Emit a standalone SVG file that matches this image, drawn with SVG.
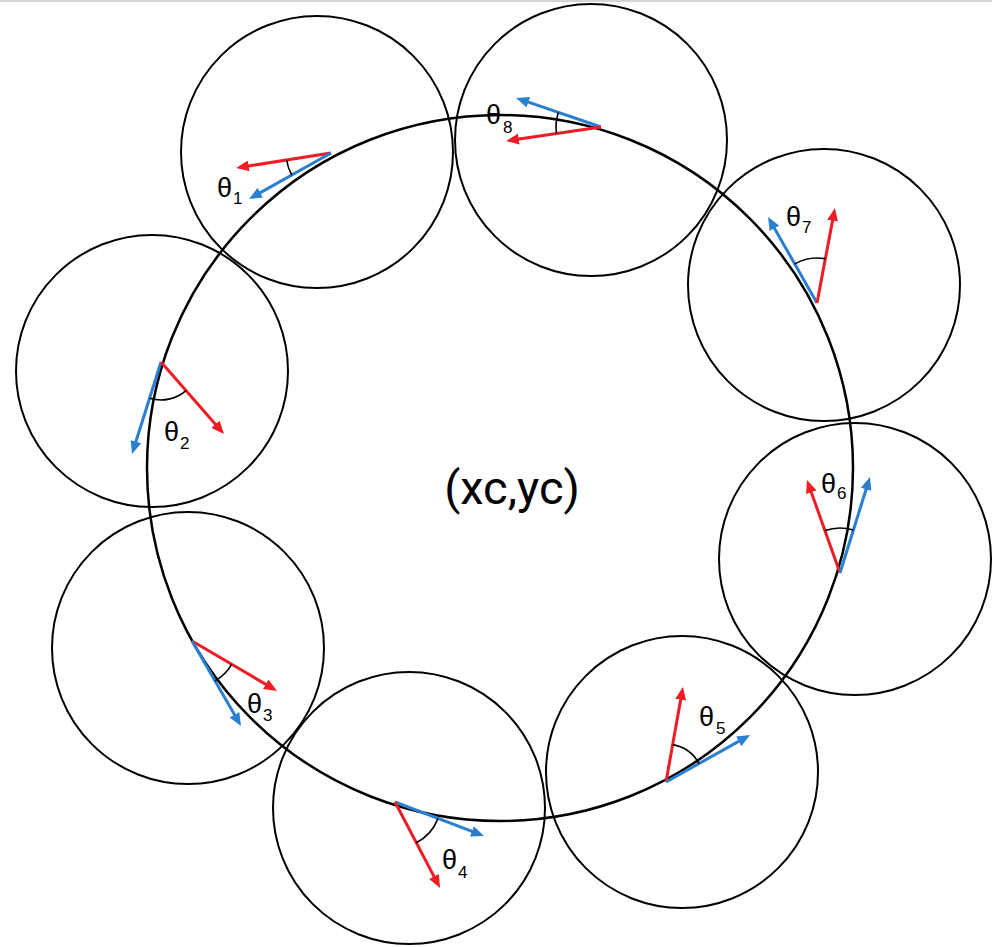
<svg xmlns="http://www.w3.org/2000/svg" width="992" height="947" viewBox="0 0 992 947">
<style>
.c{fill:none;stroke:#000;stroke-width:2}
.big{fill:none;stroke:#000;stroke-width:2.5}
.r{stroke:#ee1c24;stroke-width:3;fill:none;marker-end:url(#ar)}
.b{stroke:#2a80cf;stroke-width:3;fill:none;marker-end:url(#ab)}
.a{fill:none;stroke:#000;stroke-width:1.6}
.t{font-family:"Liberation Sans",Arial,sans-serif;font-size:27px;fill:#000}
.s{font-size:17px}
.m{font-family:Roboto,"Liberation Sans",sans-serif;font-size:47px;fill:#000}
</style>
<defs>
<marker id="ar" markerUnits="userSpaceOnUse" markerWidth="14" markerHeight="11" refX="3" refY="5.5" orient="auto"><path d="M0,0 L13,5.5 L0,11 z" fill="#ee1c24"/></marker>
<marker id="ab" markerUnits="userSpaceOnUse" markerWidth="14" markerHeight="11" refX="3" refY="5.5" orient="auto"><path d="M0,0 L13,5.5 L0,11 z" fill="#2a80cf"/></marker>
</defs>
<rect x="0" y="0" width="992" height="2" fill="#d4d4d4"/>
<g id="circles">
<circle id="c1" class="c" cx="317" cy="152" r="136"/>
<circle id="c8" class="c" cx="591" cy="140" r="136"/>
<circle id="c7" class="c" cx="824" cy="285" r="136"/>
<circle id="c6" class="c" cx="855" cy="559" r="136"/>
<circle id="c5" class="c" cx="682" cy="772" r="136"/>
<circle id="c4" class="c" cx="409" cy="808" r="136"/>
<circle id="c3" class="c" cx="188" cy="648" r="136"/>
<circle id="c2" class="c" cx="152" cy="371" r="136"/>
</g>
<circle id="path" class="big" cx="500" cy="468" r="353"/>
<text id="center" class="m" x="512" y="504" text-anchor="middle">(xc,yc)</text>
<g id="connectors">
<g id="v1">
<line class="r" x1="331" y1="153" x2="245.9" y2="166.4"/>
<line class="b" x1="331" y1="153" x2="257.7" y2="194.1"/>
<path class="a" d="M286.6,160 A45,45 0 0 0 291.8,175"/>
</g>
<g id="v8">
<line class="b" x1="601" y1="127" x2="525.5" y2="101.2"/>
<line class="r" x1="601" y1="127" x2="515.9" y2="139.5"/>
<path class="a" d="M558.4,112.5 A45,45 0 0 0 556.5,133.6"/>
</g>
<g id="v7">
<line class="b" x1="817" y1="303" x2="773" y2="225.7"/>
<line class="r" x1="817" y1="303" x2="833.1" y2="217.8"/>
<path class="a" d="M794.7,263.9 A45,45 0 0 1 825.4,258.8"/>
</g>
<g id="v6">
<line class="r" x1="840" y1="573" x2="810.3" y2="489.4"/>
<line class="b" x1="840" y1="573" x2="867" y2="486.5"/>
<path class="a" d="M825,530.6 A45,45 0 0 1 853.4,530.1"/>
</g>
<g id="v5">
<line class="r" x1="666" y1="782" x2="681.2" y2="696.8"/>
<line class="b" x1="666" y1="782" x2="741.3" y2="739.9"/>
<path class="a" d="M672.7,744.6 A38,38 0 0 1 699.1,763.5"/>
</g>
<g id="v4">
<line class="b" x1="395" y1="802" x2="474.7" y2="832.4"/>
<line class="r" x1="395" y1="802" x2="435.4" y2="879.1"/>
<path class="a" d="M438,818.4 A46,46 0 0 1 416.3,842.8"/>
</g>
<g id="v3">
<line class="r" x1="192" y1="641" x2="268.4" y2="685.9"/>
<line class="b" x1="192" y1="641" x2="236" y2="717.3"/>
<path class="a" d="M231.7,664.3 A46,46 0 0 1 215,680.9"/>
</g>
<g id="v2">
<line class="b" x1="161" y1="362" x2="135" y2="444.5"/>
<line class="r" x1="161" y1="362" x2="217.4" y2="426.5"/>
<path class="a" d="M149.6,398.2 A38,38 0 0 0 186,390.6"/>
</g>
</g>
<g id="labels">
<text class="t" x="217" y="197">θ<tspan class="s" dx="1" dy="7">1</tspan></text>
<text class="t" x="486" y="124">θ<tspan class="s" dx="2" dy="9">8</tspan></text>
<text class="t" x="786" y="226">θ<tspan class="s" dx="1" dy="7">7</tspan></text>
<text class="t" x="821" y="493">θ<tspan class="s" dx="1" dy="6">6</tspan></text>
<text class="t" x="699" y="726">θ<tspan class="s" dx="2" dy="8">5</tspan></text>
<text class="t" x="442" y="869">θ<tspan class="s" dx="1" dy="9">4</tspan></text>
<text class="t" x="247" y="713">θ<tspan class="s" dx="1" dy="8">3</tspan></text>
<text class="t" x="164" y="441">θ<tspan class="s" dx="1" dy="8">2</tspan></text>
</g>
</svg>
